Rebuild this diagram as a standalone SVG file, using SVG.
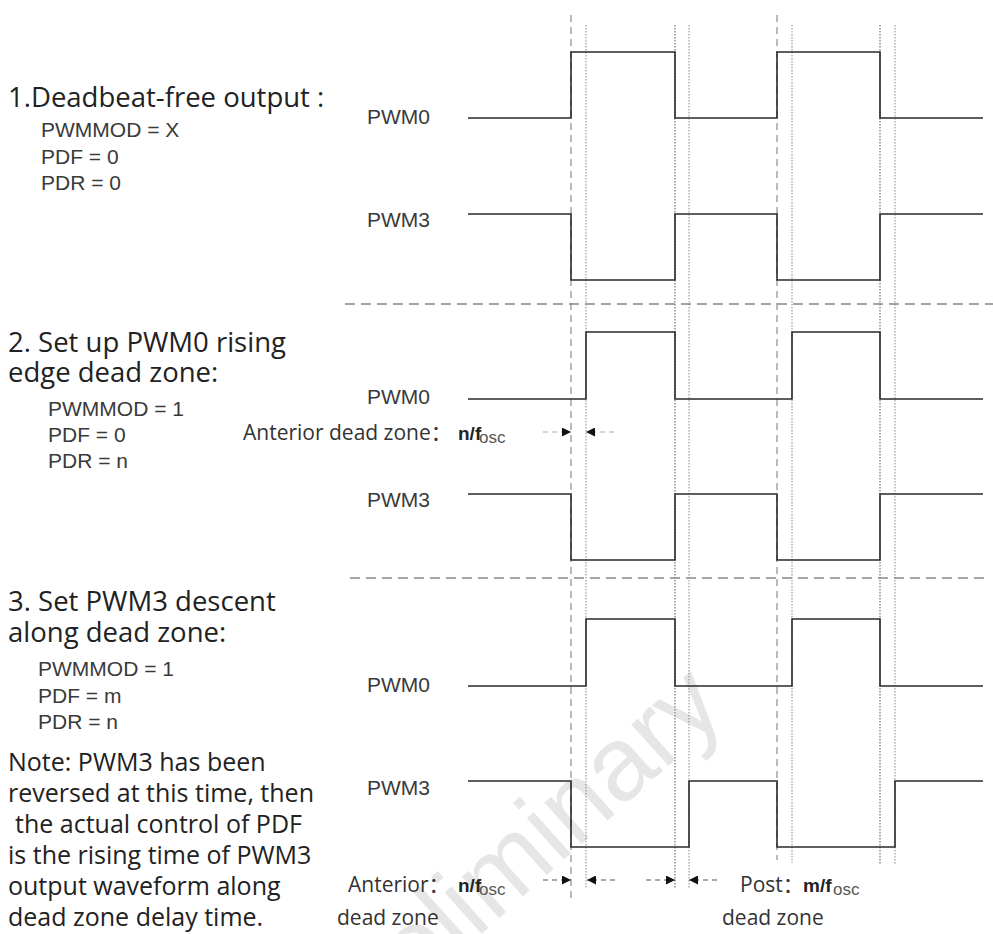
<svg xmlns="http://www.w3.org/2000/svg" width="993" height="934" viewBox="0 0 993 934">
<style>
  .h{font-family:"Open Sans","Noto Sans",sans-serif;font-size:27.5px;fill:#222}
  .n{font-family:"Open Sans","Noto Sans",sans-serif;font-size:25px;fill:#222}
  .p{font-family:"Liberation Sans",Arial,sans-serif;font-size:21px;fill:#3a3a3a}
  .lbl{font-family:"Open Sans","Noto Sans CJK SC",sans-serif;font-size:21px;fill:#333}
  .b{font-family:"Liberation Sans",Arial,sans-serif;font-weight:bold;font-size:19px;fill:#222}
  .sub{font-family:"Liberation Sans",Arial,sans-serif;font-size:17px;fill:#555}
  .wave{fill:none;stroke:#2a2a2a;stroke-width:1.6}
  .vdash{stroke:#777;stroke-width:1;stroke-dasharray:7,5}
  .vdot{stroke:#888;stroke-width:1;stroke-dasharray:1.5,1.5}
  .vdot2{stroke:#aaa;stroke-width:2;stroke-dasharray:1.5,1.5}
  .sep{stroke:#888;stroke-width:1.5;stroke-dasharray:10,6}
  .arrL{stroke:#aaa;stroke-width:1.2;stroke-dasharray:5,4;fill:none}
  .arrD{stroke:#555;stroke-width:1.2;stroke-dasharray:5,4;fill:none}
  .wm{font-family:"Liberation Sans",Arial,sans-serif;font-size:105px;fill:#e6e6e6}
</style>
<defs>
  <marker id="ah" markerUnits="userSpaceOnUse" markerWidth="10" markerHeight="9" refX="9" refY="4.5" orient="auto">
    <path d="M0,0 L9,4.5 L0,9 z" fill="#111" stroke="none"/>
  </marker>
</defs>
<rect width="993" height="934" fill="#fff"/>
<text class="wm" transform="translate(728,712) rotate(-42)" text-anchor="end">Preliminary</text>

<g id="guides">
  <line class="vdash" x1="571" y1="15" x2="571" y2="903"/>
  <line class="vdot" x1="586" y1="25" x2="586" y2="888"/>
  <line class="vdot2" x1="675" y1="25" x2="675" y2="888"/>
  <line class="vdot" x1="689" y1="25" x2="689" y2="888"/>
  <line class="vdash" x1="777" y1="15" x2="777" y2="860"/>
  <line class="vdot" x1="792" y1="25" x2="792" y2="863"/>
  <line class="vdot2" x1="880" y1="25" x2="880" y2="865"/>
  <line class="vdot" x1="895" y1="25" x2="895" y2="865"/>
  <line class="sep" x1="345" y1="304" x2="993" y2="304"/>
  <line class="sep" x1="350" y1="578" x2="988" y2="578"/>
</g>

<g id="section1">
  <text class="h" x="8" y="107">1.Deadbeat-free output :</text>
  <text class="p" x="41" y="137">PWMMOD = X</text>
  <text class="p" x="41" y="163.5">PDF = 0</text>
  <text class="p" x="41" y="190">PDR = 0</text>
  <text class="p" x="367" y="124">PWM0</text>
  <text class="p" x="367" y="227">PWM3</text>
  <path class="wave" d="M468,118 H571 V52 H675 V118 H777 V52 H880 V118 H983"/>
  <path class="wave" d="M468,214 H571 V280 H675 V214 H777 V280 H880 V214 H983"/>
</g>

<g id="section2">
  <text class="h" x="8" y="352">2. Set up PWM0 rising</text>
  <text class="h" x="8" y="382">edge dead zone:</text>
  <text class="p" x="48" y="416">PWMMOD = 1</text>
  <text class="p" x="48" y="442">PDF = 0</text>
  <text class="p" x="48" y="468">PDR = n</text>
  <text class="p" x="367" y="404">PWM0</text>
  <text class="p" x="367" y="507">PWM3</text>
  <text class="lbl" x="243" y="440">Anterior dead zone：<tspan class="b" x="458">n/f</tspan><tspan class="sub" x="479" dy="3">osc</tspan></text>
  <path class="wave" d="M468,399 H586 V332 H675 V399 H792 V332 H880 V399 H983"/>
  <path class="wave" d="M468,494 H571 V560 H675 V494 H777 V560 H880 V494 H983"/>
</g>

<g id="section3">
  <text class="h" x="8" y="611">3. Set PWM3 descent</text>
  <text class="h" x="8" y="642">along dead zone:</text>
  <text class="p" x="38" y="676">PWMMOD = 1</text>
  <text class="p" x="38" y="703">PDF = m</text>
  <text class="p" x="38" y="729">PDR = n</text>
  <text class="n" x="8" y="771">Note: PWM3 has been</text>
  <text class="n" x="8" y="802">reversed at this time, then</text>
  <text class="n" x="15" y="833">the actual control of PDF</text>
  <text class="n" x="8" y="864">is the rising time of PWM3</text>
  <text class="n" x="8" y="895">output waveform along</text>
  <text class="n" x="8" y="926">dead zone delay time.</text>
  <text class="p" x="367" y="692">PWM0</text>
  <text class="p" x="367" y="795">PWM3</text>
  <text class="lbl" x="348" y="892">Anterior：<tspan class="b" x="458">n/f</tspan><tspan class="sub" x="479" dy="3">osc</tspan></text>
  <text class="lbl" x="337" y="925">dead zone</text>
  <text class="lbl" x="740" y="892">Post：<tspan class="b" x="803">m/f</tspan><tspan class="sub" x="833" dy="3">osc</tspan></text>
  <text class="lbl" x="722" y="925">dead zone</text>
  <path class="wave" d="M468,686 H586 V619 H675 V686 H792 V619 H880 V686 H983"/>
  <path class="wave" d="M468,781 H571 V847 H689 V781 H777 V847 H895 V781 H983"/>
</g>

<g id="connectors">
  <path class="arrL" d="M543,432 H571" marker-end="url(#ah)"/>
  <path class="arrL" d="M614,432 H586" marker-end="url(#ah)"/>
  <path class="arrD" d="M543,880 H571" marker-end="url(#ah)"/>
  <path class="arrD" d="M615,880 H587" marker-end="url(#ah)"/>
  <path class="arrD" d="M646,880 H675" marker-end="url(#ah)"/>
  <path class="arrD" d="M717,880 H689" marker-end="url(#ah)"/>
</g>
</svg>
